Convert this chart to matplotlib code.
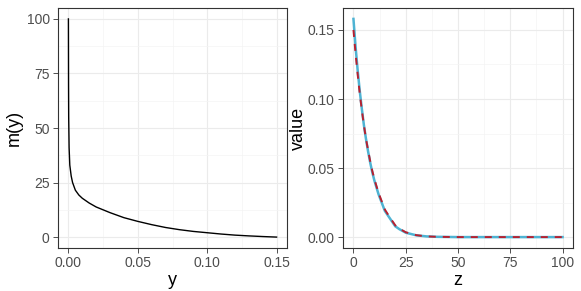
import numpy as np
import matplotlib.pyplot as plt

plt.rcParams['font.family'] = ['Liberation Sans', 'DejaVu Sans']

# left panel: m(y)
y_vals = [0.0, 0.0001, 0.0002, 0.0005, 0.001, 0.002, 0.003, 0.005, 0.0075, 0.01,
          0.015, 0.02, 0.03, 0.04, 0.05, 0.06, 0.07, 0.08, 0.09, 0.10,
          0.11, 0.12, 0.13, 0.14, 0.15]
m_vals = [100, 70, 55, 41, 33, 28, 25, 21.5, 19.3, 17.8,
          15.6, 13.8, 11.2, 8.9, 7.2, 5.7, 4.4, 3.4, 2.6, 2.0,
          1.4, 0.9, 0.55, 0.25, 0.0]

# right panel: two curves over z
z_vals = [0, 1, 2, 3, 4, 5, 6, 7, 8, 9, 10, 11, 12, 13, 14, 15, 17, 20, 22, 25,
          30, 35, 40, 50, 60, 70, 80, 90, 100]
blue_vals = [0.158, 0.138, 0.121, 0.106, 0.093, 0.081, 0.071, 0.062, 0.054, 0.047,
             0.041, 0.036, 0.031, 0.027, 0.023, 0.019, 0.0145, 0.0078, 0.0057, 0.0032,
             0.0013, 0.0005, 0.0002, 0, 0, 0, 0, 0, 0]
red_vals = [0.150, 0.133, 0.118, 0.104, 0.092, 0.081, 0.071, 0.063, 0.055, 0.048,
            0.042, 0.037, 0.032, 0.028, 0.024, 0.020, 0.0152, 0.0085, 0.0061, 0.0035,
            0.0014, 0.0005, 0.0002, 0, 0, 0, 0, 0, 0]

W, H = 581, 291
fig = plt.figure(figsize=(W / 100, H / 100), dpi=100)


def style(ax, xmaj, ymaj):
    ax.set_xticks(xmaj)
    ax.set_yticks(ymaj)
    xm = [(a + b) / 2 for a, b in zip(xmaj[:-1], xmaj[1:])]
    ym = [(a + b) / 2 for a, b in zip(ymaj[:-1], ymaj[1:])]
    ax.set_xticks(xm, minor=True)
    ax.set_yticks(ym, minor=True)
    ax.grid(True, which='major', color='#ebebeb', lw=0.8)
    ax.grid(True, which='minor', color='#f4f4f4', lw=0.5)
    ax.set_axisbelow(True)
    ax.tick_params(which='minor', length=0)
    ax.tick_params(which='major', length=3.5, width=0.6, color='#333333',
                   labelsize=10, labelcolor='#4d4d4d', pad=2.5)
    for s in ax.spines.values():
        s.set_color('#333333')
        s.set_linewidth(0.8)


ax1 = fig.add_axes([58 / W, (H - 248) / H, 229 / W, 240 / H])
ax1.plot(y_vals, m_vals, color='black', lw=1.0)
style(ax1, [0, 0.05, 0.10, 0.15], [0, 25, 50, 75, 100])
ax1.set_xticklabels(['0.00', '0.05', '0.10', '0.15'])
ax1.set_xlim(-0.0075, 0.1575)
ax1.set_ylim(-5, 105)
ax1.set_xlabel('y', fontsize=13)
ax1.set_ylabel('m(y)', fontsize=13)
ax1.xaxis.set_label_coords(0.5, -0.1)
ax1.yaxis.set_label_coords(-0.155, 0.5)

ax2 = fig.add_axes([343 / W, (H - 248) / H, 230 / W, 240 / H])
ax2.plot(z_vals, blue_vals, color='#4eb3d3', lw=1.8)
ax2.plot(z_vals, red_vals, color='#b8202f', lw=1.4, ls=(0, (3.6, 3.6)))
style(ax2, [0, 25, 50, 75, 100], [0, 0.05, 0.10, 0.15])
ax2.set_yticklabels(['0.00', '0.05', '0.10', '0.15'])
ax2.set_xlim(-5, 105)
ax2.set_ylim(-0.0079, 0.1659)
ax2.set_xlabel('z', fontsize=13)
ax2.set_ylabel('value', fontsize=13)
ax2.xaxis.set_label_coords(0.5, -0.1)
ax2.yaxis.set_label_coords(-0.157, 0.5)

fig.savefig('out.png', dpi=100)
